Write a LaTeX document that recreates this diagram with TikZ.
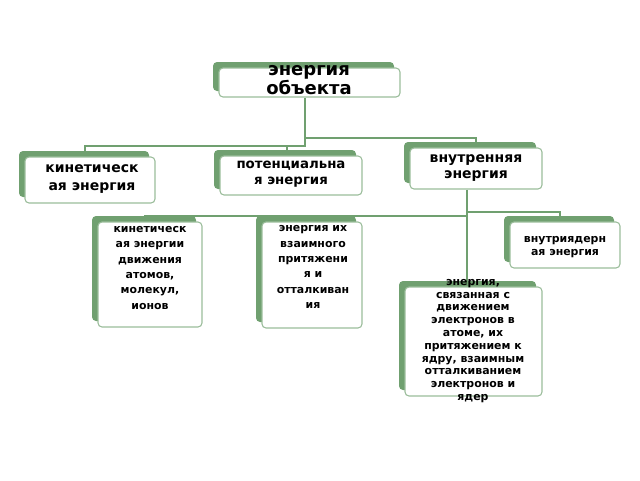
\documentclass[tikz,border=0pt]{standalone}
\usepackage{fontspec}
\setmainfont{DejaVu Sans}
\begin{document}
\begin{tikzpicture}[x=0.75pt,y=-0.75pt,
  box/.style={draw=grn!70!white, line width=0.8pt, fill=white, rounded corners=3pt,
    preaction={fill=grn, draw=none, rounded corners=3pt, transform canvas={xshift=-4.5pt,yshift=4.5pt}}},
  txt/.style={align=center, font=\bfseries, inner sep=0pt},
  con/.style={draw=grn, line width=1.2pt}]
\definecolor{grn}{RGB}{112,160,112}
\useasboundingbox (0,0) rectangle (640,480);
\newcommand\bx[5]{\node[box, minimum width=#3*0.75pt, minimum height=#4*0.75pt] (#5) at (#1,#2) {};}
% connectors
\coordinate (a1) at (305,138); \coordinate (a2) at (85,146); \coordinate (a3) at (287,146);
\coordinate (b1) at (467,212); \coordinate (b2) at (145,216); \coordinate (b3) at (560,212);
\bx{309.5}{82.5}{181}{29}{top}
\bx{90}{180}{130}{46}{kin}
\bx{291}{175.5}{142}{39}{pot}
\bx{476}{168.5}{132}{41}{vn}
\bx{150}{274.5}{104}{105}{k2}
\bx{312}{275}{100}{106}{vz}
\bx{565}{245}{110}{46}{ya}
\bx{473.5}{341.5}{137}{109}{el}
\draw[con] (top.south -| a1) -- (a1) -| (vn.north);
\draw[con] (a1) -- (305,146) -- (a2) -- (kin.north -| a2);
\draw[con] (a3) -- (pot.north -| a3);
\draw[con] (vn.south -| b1) -- (el.north -| b1);
\draw[con] (b1) -- (b3) -- (ya.north -| b3);
\draw[con] (b1) -- (467,216) -- (b2) -- (k2.north -| b2);
\draw[con] (b2) -| (vz.north);
\node[txt, font=\bfseries\fontsize{13.5}{13}\selectfont, text width=150pt] (t1) at (309,80) {энергия\\объекта};
\node[txt, font=\bfseries\fontsize{10.5}{13}\selectfont] (t2) at (92,179) {кинетическ\\ая энергия};
\node[txt, font=\bfseries\fontsize{10}{12}\selectfont] (t3) at (291,174) {потенциальна\\я энергия};
\node[txt, font=\bfseries\fontsize{10.5}{12.5}\selectfont] (t4) at (476,168) {внутренняя\\энергия};
\node[txt, font=\bfseries\fontsize{8.2}{11.5}\selectfont] (t5) at (150,268) {кинетическ\\ая энергии\\движения\\атомов,\\молекул,\\ионов};
\node[txt, font=\bfseries\fontsize{8.2}{11.5}\selectfont] (t6) at (313,267) {энергия их\\взаимного\\притяжени\\я и\\отталкиван\\ия};
\node[txt, font=\bfseries\fontsize{8.2}{9.5}\selectfont] (t7) at (565,247) {внутриядерн\\ая энергия};
\node[txt, font=\bfseries\fontsize{8.2}{9.6}\selectfont] (t8) at (473,341) {энергия,\\связанная с\\движением\\электронов в\\атоме, их\\притяжением к\\ядру, взаимным\\отталкиванием\\электронов и\\ядер};
\end{tikzpicture}
\end{document}
